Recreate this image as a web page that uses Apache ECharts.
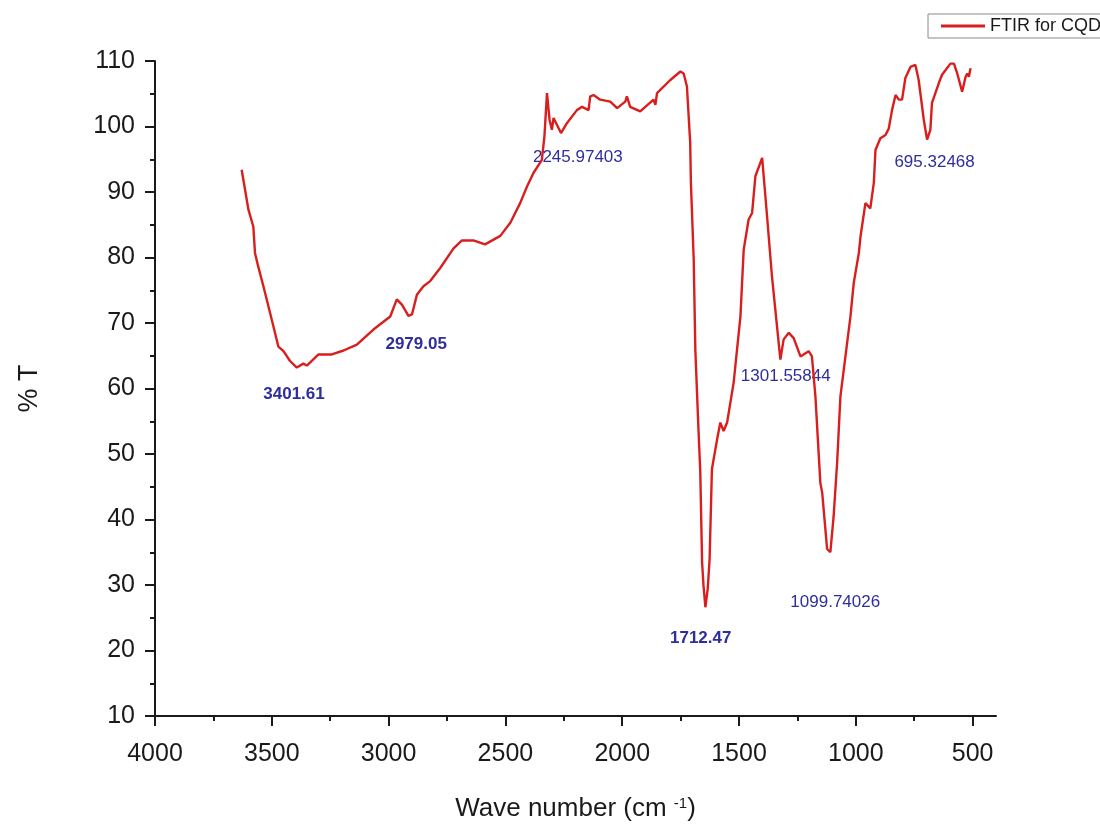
<!DOCTYPE html>
<html>
<head>
<meta charset="utf-8">
<title>FTIR for CQD</title>
<script src="https://cdn.jsdelivr.net/npm/echarts@6/dist/echarts.min.js"></script>
</head>
<body style="margin:0;padding:0;background:#fff">
<div id="chart" style="width:1100px;height:827px;"></div>
<script type="text/javascript">
// spectrum (wave number cm-1 -> %T)
var waveNumber = [3629, 3600, 3579, 3572, 3558, 3536, 3507, 3472, 3450, 3422, 3393, 3365, 3350, 3300, 3243, 3193, 3136, 3065, 2993, 2965,
    2943, 2915, 2900, 2879, 2851, 2822, 2779, 2722, 2686, 2637, 2587, 2522, 2479, 2437, 2408, 2380, 2344, 2333, 2322, 2311,
    2301, 2294, 2262, 2237, 2194, 2172, 2144, 2137, 2123, 2094, 2051, 2022, 1987, 1980, 1966, 1923, 1866, 1858, 1851, 1794,
    1751, 1737, 1723, 1709, 1706, 1694, 1687, 1673, 1666, 1658, 1652, 1644, 1634, 1626, 1616, 1594, 1580, 1566, 1551, 1523,
    1494, 1480, 1459, 1444, 1430, 1401, 1380, 1359, 1323, 1309, 1287, 1266, 1237, 1202, 1188, 1173, 1152, 1144, 1123, 1109,
    1095, 1080, 1066, 1023, 1009, 987, 980, 959, 938, 923, 916, 895, 873, 859, 845, 830, 816, 802, 788, 766,
    745, 731, 709, 695, 681, 674, 645, 631, 595, 580, 566, 545, 530, 523, 516, 509];
var transmittance = [93.4, 87.3, 84.7, 80.7, 78.6, 75.6, 71.5, 66.4, 65.7, 64.2, 63.2, 63.8, 63.5, 65.2, 65.2, 65.8, 66.7, 69.0, 71.0, 73.6,
    72.8, 71.1, 71.3, 74.3, 75.6, 76.4, 78.4, 81.4, 82.6, 82.6, 82.0, 83.3, 85.3, 88.3, 90.8, 92.9, 94.9, 98.5, 105.1, 101.0,
    99.5, 101.3, 99.0, 100.5, 102.5, 103.0, 102.5, 104.6, 104.8, 104.1, 103.8, 102.8, 103.8, 104.6, 103.0, 102.3, 104.1, 103.3, 105.1, 107.1,
    108.4, 108.1, 106.1, 97.5, 91.4, 79.7, 65.9, 53.2, 47.4, 33.4, 29.9, 26.6, 29.4, 33.9, 47.7, 52.2, 54.8, 53.5, 54.8, 60.9,
    71.0, 81.2, 85.8, 86.8, 92.4, 95.2, 86.3, 77.1, 64.4, 67.5, 68.5, 67.7, 64.9, 65.7, 64.9, 58.8, 45.6, 44.1, 35.5, 35.0,
    40.5, 48.7, 58.8, 71.0, 76.1, 80.7, 83.2, 88.3, 87.5, 91.4, 96.4, 98.2, 98.7, 99.7, 102.5, 104.8, 104.1, 104.1, 107.4, 109.1,
    109.4, 107.1, 101.0, 98.0, 99.5, 103.6, 106.6, 107.9, 109.6, 109.6, 108.1, 105.3, 107.6, 108.1, 107.6, 108.9];

// peak annotations (text, where the text sits, bold or not)
var peakText = ['3401.61', '2979.05', '2245.97403', '1301.55844', '1712.47', '1099.74026', '695.32468'];
var peakX = [3405, 2882, 2190, 1300, 1664, 1088, 663];
var peakY = [59.1, 66.7, 95.3, 61.8, 21.8, 27.3, 94.5];
var peakBold = [true, true, false, false, true, false, false];

var majorTicks = [500, 1000, 1500, 2000, 2500, 3000, 3500, 4000];
var minorTicks = [750, 1250, 1750, 2250, 2750, 3250, 3750];

var seriesName = 'FTIR for CQD';

var lineData = waveNumber.map(function (w, i) { return [w, transmittance[i]]; });
var peakData = peakText.map(function (t, i) {
    return {
        name: t,
        value: [peakX[i], peakY[i]],
        label: { fontWeight: peakBold[i] ? 'bold' : 'normal' }
    };
});

var axisColor = '#1a1a1a';
var font = 'Liberation Sans, Arial, sans-serif';

var myChart = echarts.init(document.getElementById('chart'));
var option = {
    backgroundColor: '#fff',
    animation: false,
    legend: {
        data: [{ name: seriesName, icon: 'rect' }],
        left: 928,
        top: 14,
        itemWidth: 44,
        itemHeight: 3,
        padding: [3, 12, 3, 13],
        borderColor: '#888',
        borderWidth: 1,
        textStyle: { fontSize: 18, color: axisColor, fontFamily: font }
    },
    grid: {
        left: 155,
        right: 104,
        top: 61,
        bottom: 110,
        containLabel: false
    },
    xAxis: [{
        type: 'value',
        inverse: true,
        min: 400,
        max: 4000,
        position: 'bottom',
        name: 'Wave number (cm {sup|-1})',
        nameLocation: 'middle',
        nameGap: 80,
        nameTextStyle: {
            fontSize: 26,
            color: axisColor,
            fontFamily: font,
            rich: {
                sup: { fontSize: 15, verticalAlign: 'top', padding: [0, 0, 10, 0], color: axisColor, fontFamily: font }
            }
        },
        axisLine: { lineStyle: { color: axisColor, width: 2 } },
        axisTick: { customValues: majorTicks, length: 10, lineStyle: { color: axisColor, width: 2 } },
        axisLabel: {
            customValues: majorTicks,
            formatter: function (v) { return String(v); },
            fontSize: 25, color: axisColor, fontFamily: font, margin: 26
        },
        splitLine: { show: false }
    }, {
        // minor ticks between the labelled ones
        type: 'value',
        inverse: true,
        min: 400,
        max: 4000,
        position: 'bottom',
        axisLine: { show: false },
        axisTick: { customValues: minorTicks, length: 5, lineStyle: { color: axisColor, width: 2 } },
        axisLabel: { show: false },
        splitLine: { show: false }
    }],
    yAxis: {
        type: 'value',
        min: 10,
        max: 110,
        interval: 10,
        name: '% T',
        nameLocation: 'middle',
        nameGap: 112,
        nameTextStyle: { fontSize: 27, color: axisColor, fontFamily: font },
        axisLine: { show: true, lineStyle: { color: axisColor, width: 2 } },
        axisTick: { show: true, length: 10, lineStyle: { color: axisColor, width: 2 } },
        minorTick: { show: true, splitNumber: 2, length: 5, lineStyle: { color: axisColor, width: 2 } },
        axisLabel: { fontSize: 25, color: axisColor, fontFamily: font, margin: 20 },
        splitLine: { show: false }
    },
    series: [{
        name: seriesName,
        type: 'line',
        data: lineData,
        showSymbol: false,
        symbol: 'none',
        lineStyle: { color: '#d91e1e', width: 2.4 },
        itemStyle: { color: '#d91e1e' }
    }, {
        name: 'peaks',
        type: 'scatter',
        data: peakData,
        symbolSize: 1,
        // scatter defaults to 0.8 opacity, which the labels inherit
        itemStyle: { color: 'rgba(0,0,0,0)', opacity: 1 },
        label: {
            show: true,
            position: 'inside',
            formatter: '{b}',
            fontSize: 17,
            color: '#2e2e9c',
            textBorderWidth: 0,
            fontFamily: font
        },
        silent: true
    }]
};
myChart.setOption(option);
</script>
</body>
</html>
